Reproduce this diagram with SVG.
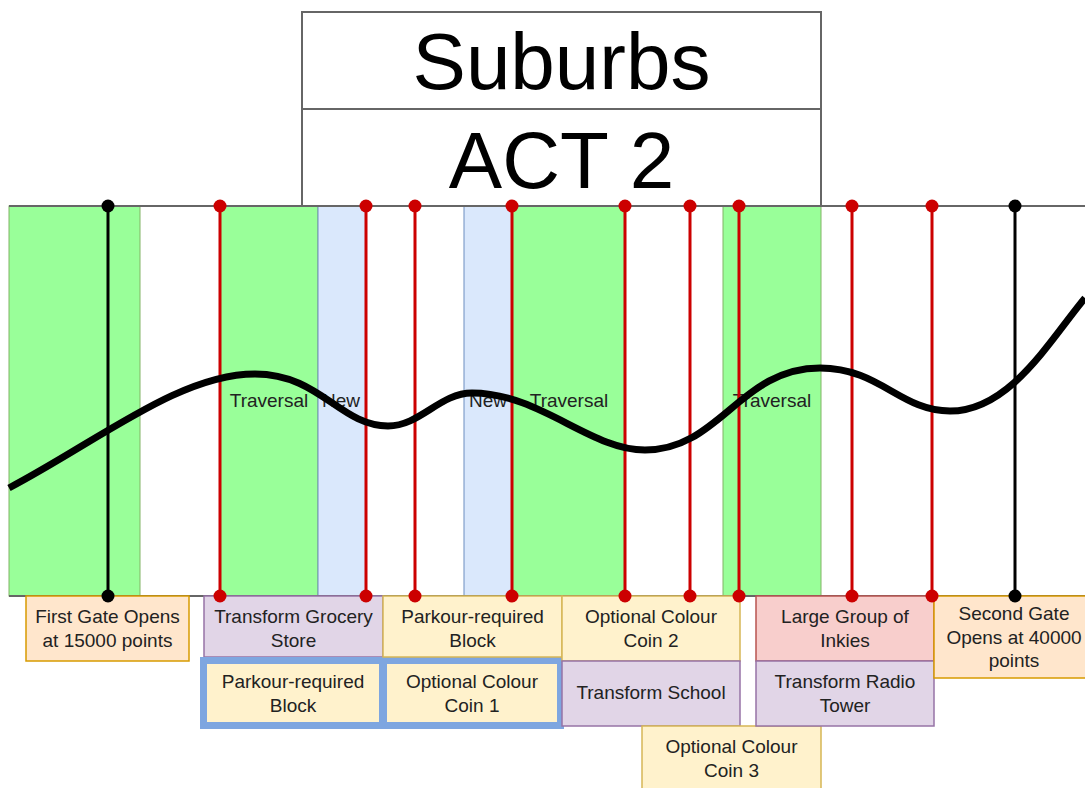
<svg xmlns="http://www.w3.org/2000/svg" width="1085" height="788" viewBox="0 0 1085 788">
<style>
text{font-family:"Liberation Sans",Arial,sans-serif;fill:#222;}
.lbl{font-size:19px;text-anchor:middle;}
.band-g{fill:#99ff99;stroke:#82b366;stroke-width:1;}
.band-b{fill:#dae8fc;stroke:#6c8ebf;stroke-width:1;}
.red{stroke:#cc0000;stroke-width:3;}
.blk{stroke:#000;stroke-width:3;}
.rdot{fill:#cc0000;}
.bdot{fill:#000;}
.orange{fill:#ffe6cc;stroke:#d79b00;stroke-width:1.5;}
.yellow{fill:#fff2cc;stroke:#d6b656;stroke-width:1.5;}
.purple{fill:#e1d5e7;stroke:#9673a6;stroke-width:1.5;}
.pink{fill:#f8cecc;stroke:#b85450;stroke-width:1.5;}
.sel{fill:#fff2cc;stroke:#7ea6e0;stroke-width:7;}
.title{font-size:80px;text-anchor:middle;fill:#000;}
</style>
<rect width="1085" height="788" fill="#fff"/>
<g id="title">
<rect x="302" y="12" width="519" height="194" fill="#fff" stroke="#666" stroke-width="2"/>
<line x1="302" y1="109" x2="821" y2="109" stroke="#666" stroke-width="2"/>
<text class="title" x="561.5" y="89">Suburbs</text>
<text class="title" x="561.5" y="188">ACT 2</text>
</g>
<g id="bands">
<rect class="band-g" x="9" y="206" width="131" height="390"/>
<rect class="band-g" x="220" y="206" width="98" height="390"/>
<rect class="band-b" x="318" y="206" width="48" height="390"/>
<rect class="band-b" x="464" y="206" width="48" height="390"/>
<rect class="band-g" x="512" y="206" width="113" height="390"/>
<rect class="band-g" x="723" y="206" width="98" height="390"/>
</g>
<g id="axis">
<line x1="9" y1="206" x2="1085" y2="206" stroke="#666" stroke-width="2"/>
<line x1="9" y1="596" x2="1085" y2="596" stroke="#666" stroke-width="2"/>
</g>
<g id="band-labels">
<text class="lbl" x="269" y="407" font-size="18">Traversal</text>
<text class="lbl" x="341" y="407">New</text>
<text class="lbl" x="488" y="407">New</text>
<text class="lbl" x="569" y="407">Traversal</text>
<text class="lbl" x="772" y="407">Traversal</text>
</g>
<g id="connectors">
<line class="blk" x1="108" y1="206" x2="108" y2="596"/>
<line class="red" x1="220" y1="206" x2="220" y2="596"/>
<line class="red" x1="366" y1="206" x2="366" y2="596"/>
<line class="red" x1="415" y1="206" x2="415" y2="596"/>
<line class="red" x1="512" y1="206" x2="512" y2="596"/>
<line class="red" x1="625" y1="206" x2="625" y2="596"/>
<line class="red" x1="690" y1="206" x2="690" y2="596"/>
<line class="red" x1="739" y1="206" x2="739" y2="596"/>
<line class="red" x1="852" y1="206" x2="852" y2="596"/>
<line class="red" x1="932" y1="206" x2="932" y2="596"/>
<line class="blk" x1="1015" y1="206" x2="1015" y2="596"/>
</g>
<g id="curve">
<path d="M9,488 C100,440 180,374 255,374 C320,374 340,426 388,426 C420,426 440,393 472,393 C540,393 590,450 645,450 C720,450 740,368 820,368 C880,368 900,411 950,411 C1010,411 1050,340 1085,298" fill="none" stroke="#000" stroke-width="7"/>
</g>
<g id="box-first-gate">
<rect class="orange" x="26" y="596" width="163" height="65"/>
<text class="lbl" x="107.5" y="623">First Gate Opens</text>
<text class="lbl" x="107.5" y="647">at 15000 points</text>
</g>
<g id="box-grocery">
<rect class="purple" x="204" y="596" width="179" height="61"/>
<text class="lbl" x="293.5" y="623">Transform Grocery</text>
<text class="lbl" x="293.5" y="647">Store</text>
</g>
<g id="box-parkour-1">
<rect class="sel" x="203.5" y="660.5" width="179" height="65"/>
<text class="lbl" x="293" y="688">Parkour-required</text>
<text class="lbl" x="293" y="712">Block</text>
</g>
<g id="box-coin-1">
<rect class="sel" x="383.5" y="660.5" width="177" height="65"/>
<text class="lbl" x="472" y="688">Optional Colour</text>
<text class="lbl" x="472" y="712">Coin 1</text>
</g>
<g id="box-parkour-2">
<rect class="yellow" x="383" y="596" width="179" height="61"/>
<text class="lbl" x="472.5" y="623">Parkour-required</text>
<text class="lbl" x="472.5" y="647">Block</text>
</g>
<g id="box-coin-2">
<rect class="yellow" x="562" y="596" width="178" height="65"/>
<text class="lbl" x="651" y="623">Optional Colour</text>
<text class="lbl" x="651" y="647">Coin 2</text>
</g>
<g id="box-school">
<rect class="purple" x="562" y="661" width="178" height="65"/>
<text class="lbl" x="651" y="699">Transform School</text>
</g>
<g id="box-coin-3">
<rect class="yellow" x="642" y="726" width="179" height="66"/>
<text class="lbl" x="731.5" y="753">Optional Colour</text>
<text class="lbl" x="731.5" y="777">Coin 3</text>
</g>
<g id="box-inkies">
<rect class="pink" x="756" y="596" width="178" height="65"/>
<text class="lbl" x="845" y="623">Large Group of</text>
<text class="lbl" x="845" y="647">Inkies</text>
</g>
<g id="box-radio">
<rect class="purple" x="756" y="661" width="178" height="65"/>
<text class="lbl" x="845" y="688">Transform Radio</text>
<text class="lbl" x="845" y="712">Tower</text>
</g>
<g id="box-second-gate">
<rect class="orange" x="934" y="596" width="160" height="82"/>
<text class="lbl" x="1014" y="620">Second Gate</text>
<text class="lbl" x="1014" y="644">Opens at 40000</text>
<text class="lbl" x="1014" y="667">points</text>
</g>
<g id="dots">
<circle class="bdot" cx="108" cy="206" r="6.5"/><circle class="bdot" cx="108" cy="596" r="6.5"/>
<circle class="rdot" cx="220" cy="206" r="6.5"/><circle class="rdot" cx="220" cy="596" r="6.5"/>
<circle class="rdot" cx="366" cy="206" r="6.5"/><circle class="rdot" cx="366" cy="596" r="6.5"/>
<circle class="rdot" cx="415" cy="206" r="6.5"/><circle class="rdot" cx="415" cy="596" r="6.5"/>
<circle class="rdot" cx="512" cy="206" r="6.5"/><circle class="rdot" cx="512" cy="596" r="6.5"/>
<circle class="rdot" cx="625" cy="206" r="6.5"/><circle class="rdot" cx="625" cy="596" r="6.5"/>
<circle class="rdot" cx="690" cy="206" r="6.5"/><circle class="rdot" cx="690" cy="596" r="6.5"/>
<circle class="rdot" cx="739" cy="206" r="6.5"/><circle class="rdot" cx="739" cy="596" r="6.5"/>
<circle class="rdot" cx="852" cy="206" r="6.5"/><circle class="rdot" cx="852" cy="596" r="6.5"/>
<circle class="rdot" cx="932" cy="206" r="6.5"/><circle class="rdot" cx="932" cy="596" r="6.5"/>
<circle class="bdot" cx="1015" cy="206" r="6.5"/><circle class="bdot" cx="1015" cy="596" r="6.5"/>
</g>
</svg>
